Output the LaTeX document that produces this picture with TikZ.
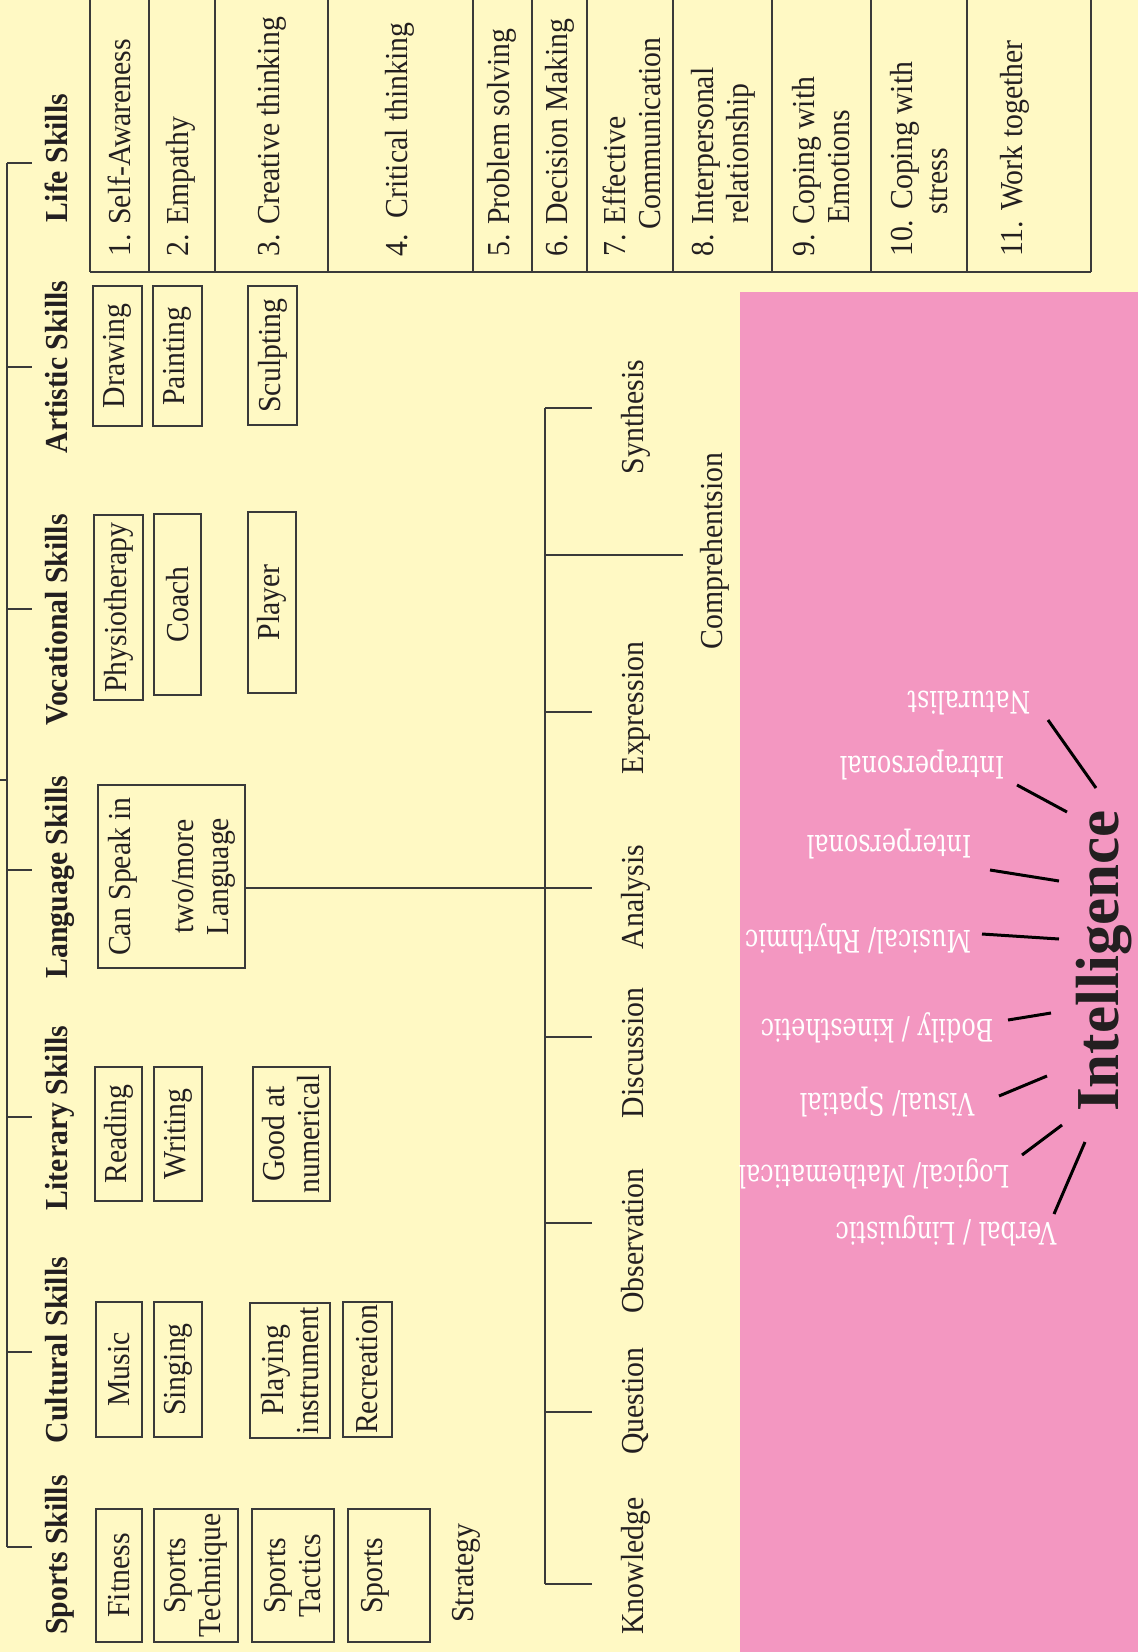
\documentclass[tikz,border=0pt]{standalone}
\usepackage{fontspec}
\setmainfont{Liberation Serif}[FakeStretch=0.93]
\newfontfamily\bigfont{Liberation Serif}
\newfontfamily\tagfont{DejaVu Serif}[FakeStretch=0.77]
\definecolor{paper}{HTML}{FFF9C4}
\definecolor{rose}{HTML}{F397C1}
\definecolor{ink}{HTML}{3A3A3A}
\definecolor{deep}{HTML}{231F20}
\begin{document}
\begin{tikzpicture}[x=1pt,y=1pt,
  txt/.style={font=\fontsize{32}{35}\selectfont, inner sep=0pt, text=deep},
  hdr/.style={font=\fontsize{32}{35}\selectfont\bfseries, text=deep, rotate=90, anchor=base, inner sep=0pt},
  cell/.style={txt, rotate=90, anchor=west, align=left},
  box/.style={txt, draw=ink, line width=1.5pt, rotate=90, align=center},
  lvl/.style={txt, rotate=90, anchor=base},
  tag/.style={font=\tagfont\fontsize{31}{35}\selectfont, text=white, rotate=180, inner sep=0pt},
  wire/.style={draw=ink, line width=1.5pt},
  ray/.style={draw=black, line width=3pt},
]
\useasboundingbox (0,0) rectangle (1138,-1652);
\fill[paper] (0,0) rectangle (1138,-1652);
\fill[rose] (740,-292) rectangle (1138,-1652);

% ---------- Life skills table ----------
\foreach \cx in {90,149,215,328,473,532,587,673,772,871,967,1091}
  \draw[wire] (\cx,0) -- (\cx,-272);
\draw[wire] (90,-272) -- (1091,-272);

\node[cell] (ls1)  at (119.5,-257) {1. Self-Awareness};
\node[cell] (ls2)  at (181,-257)   {2. Empathy};
\node[cell] (ls3)  at (272,-257)   {3. Creative thinking};
\node[cell] (ls4)  at (400,-257)   {4.\enspace Critical thinking};
\node[cell] (ls5)  at (502,-257)   {5. Problem solving};
\node[cell] (ls6)  at (559.5,-257) {6. Decision Making};
\node[cell] (ls7)  at (632,-257)   {7. Effective\\\hphantom{7.}\,Communication};
\node[cell] (ls8)  at (723,-257)   {8. Interpersonal\\\hphantom{8.}\,\,relationship};
\node[cell] (ls9)  at (821,-257)   {9. Coping with\\\hphantom{9.}\,\,Emotions};
\node[cell] (ls10) at (919,-257)   {10. Coping with\\\hphantom{10.}\,stress};
\node[cell] (ls11) at (1015,-257)  {11. Work together};

% ---------- category headings ----------
\node[hdr] (life)  at (67,-158)  {Life Skills};
\node[hdr] (art)   at (67,-367)  {Artistic Skills};
\node[hdr] (voc)   at (67,-620)  {Vocational Skills};
\node[hdr] (lang)  at (67,-877)  {Language Skills};
\node[hdr] (lit)   at (67,-1118) {Literary Skills};
\node[hdr] (cult)  at (67,-1350) {Cultural Skills};
\node[hdr] (sport) at (67,-1555) {Sports Skills};

% spine with its ticks
\coordinate (root) at (0,-780);
\coordinate (sTop) at (7,-163);
\coordinate (sBot) at (7,-1547);
\coordinate (tLife)  at (32,-163);
\coordinate (tArt)   at (32,-367);
\coordinate (tVoc)   at (32,-609);
\coordinate (tLang)  at (32,-870);
\coordinate (tLit)   at (32,-1117);
\coordinate (tCult)  at (32,-1352);
\coordinate (tSport) at (32,-1547);
\draw[wire] (sTop) -- (sBot);
\draw[wire] (root) -- (sTop |- root);
\foreach \t in {tLife,tArt,tVoc,tLang,tLit,tCult,tSport}
  \draw[wire] (sTop |- \t) -- (\t);

% ---------- skill boxes ----------
\node[box, minimum width=140, minimum height=49] (drw) at (117.5,-356) {Drawing};
\node[box, minimum width=140, minimum height=49] (pnt) at (177.5,-356) {Painting};
\node[box, minimum width=139, minimum height=49] (scu) at (272.5,-355.5) {Sculpting};

\node[box, minimum width=185, minimum height=49] (phy) at (118.5,-607.5) {Physiotherapy};
\node[box, minimum width=181, minimum height=47] (coa) at (177.5,-604.5) {Coach};
\node[box, minimum width=181, minimum height=48] (ply) at (272,-602.5) {Player};

\node[box, minimum width=183, minimum height=147] (spk) at (171.5,-876.5)
  {Can Speak in\\[28pt]two/more\\Language};

\node[box, minimum width=134, minimum height=47] (rea) at (118.5,-1134) {Reading};
\node[box, minimum width=134, minimum height=48] (wri) at (178,-1134) {Writing};
\node[box, minimum width=134, minimum height=77] (num) at (291.5,-1134) {Good at\\numerical};

\node[box, minimum width=135, minimum height=46] (mus) at (119,-1369.5) {Music};
\node[box, minimum width=135, minimum height=48] (sin) at (178,-1369.5) {Singing};
\node[box, minimum width=135, minimum height=80] (ins) at (290,-1370.5) {Playing\\instrument};
\node[box, minimum width=135, minimum height=49] (rec) at (367.5,-1369.5) {Recreation};

\node[box, minimum width=133, minimum height=46] (fit) at (119,-1575.5) {Fitness};
\node[box, minimum width=133, minimum height=84] (tec) at (196,-1575.5) {Sports\\Technique};
\node[box, minimum width=133, minimum height=82] (tac) at (293,-1575.5) {Sports\\Tactics};
\node[box, minimum width=133, minimum height=82] (spo) at (389,-1575.5) {Sports\\\mbox{}};
\node[txt, rotate=90] (stg) at (466,-1573) {Strategy};

% ---------- levels ----------
\node[lvl] (syn) at (643,-417)  {Synthesis};
\node[lvl] (com) at (722,-551)  {Comprehentsion};
\node[lvl] (exp) at (643,-708)  {Expression};
\node[lvl] (ana) at (643,-897)  {Analysis};
\node[lvl] (dis) at (643,-1053) {Discussion};
\node[lvl] (obs) at (643,-1241) {Observation};
\node[lvl] (que) at (643,-1401) {Question};
\node[lvl] (kno) at (643,-1566) {Knowledge};

\coordinate (lTop) at (545,-408);
\coordinate (lBot) at (545,-1584);
\coordinate (kSyn) at (592,-408);
\coordinate (kCom) at (683,-555);
\coordinate (kExp) at (592,-712);
\coordinate (kAna) at (592,-888);
\coordinate (kDis) at (592,-1037);
\coordinate (kObs) at (592,-1223);
\coordinate (kQue) at (592,-1412);
\coordinate (kKno) at (592,-1584);
\draw[wire] (lTop) -- (lBot);
\foreach \k in {kSyn,kCom,kExp,kAna,kDis,kObs,kQue,kKno}
  \draw[wire] (lTop |- \k) -- (\k);
\draw[wire] (spk.south |- kAna) -- (lTop |- kAna);

% ---------- intelligences ----------
\node[font=\bigfont\fontsize{61}{61}\selectfont\bfseries, text=deep, rotate=90, anchor=base, inner sep=0pt]
  (intel) at (1118,-961) {Intelligence};

\node[tag] (nat) at (969,-703)  {Naturalist};
\node[tag] (tra) at (922,-765)  {Intrapersonal};
\node[tag] (ter) at (889,-844)  {Interpersonal};
\node[tag] (rhy) at (858,-939)  {Musical/ Rhythmic};
\node[tag] (kin) at (877,-1028) {Bodily / kinesthetic};
\node[tag] (vis) at (887,-1102) {Visual/ Spatial};
\node[tag] (log) at (874,-1174) {Logical/ Mathematical};
\node[tag] (ver) at (946,-1231) {Verbal / Linguistic};

\coordinate (nat1) at (1048,-720);  \coordinate (nat2) at (1096,-788);
\coordinate (tra1) at (1017,-785);  \coordinate (tra2) at (1067,-812);
\coordinate (ter1) at (990,-870);   \coordinate (ter2) at (1059,-881);
\coordinate (rhy1) at (982,-934);   \coordinate (rhy2) at (1059,-939);
\coordinate (kin1) at (1008,-1020); \coordinate (kin2) at (1051,-1013);
\coordinate (vis1) at (999,-1096);  \coordinate (vis2) at (1047,-1076);
\coordinate (log1) at (1022,-1155); \coordinate (log2) at (1062,-1125);
\coordinate (ver1) at (1054,-1214); \coordinate (ver2) at (1085,-1142);
\foreach \r in {nat,tra,ter,rhy,kin,vis,log,ver}
  \draw[ray] (\r1) -- (\r2);
\end{tikzpicture}
\end{document}
